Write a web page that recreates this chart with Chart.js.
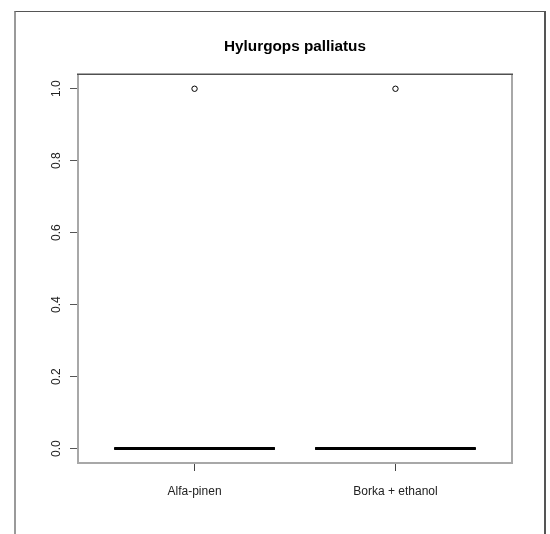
<!DOCTYPE html>
<html>
<head>
<meta charset="utf-8">
<script src="https://cdn.jsdelivr.net/npm/chart.js@4/dist/chart.umd.min.js"></script>
<style>
  html, body { margin: 0; padding: 0; background: #fff; }
  #wrap { position: relative; width: 550px; height: 534px; overflow: hidden; background: #fff; }
  #wrap canvas { position: absolute; left: 0; top: 0; }
  #frame {
    position: absolute; left: 14px; top: 11px; width: 528px; height: 600px;
    border-left: 2px solid #9a9a9a; border-top: 1px solid #555; border-right: 2px solid #555;
    pointer-events: none;
  }
</style>
</head>
<body>
<div id="wrap">
  <canvas id="chart" width="550" height="534"></canvas>
  <div id="frame"></div>
</div>
<script>
// Box-plot summary per trap type
const categories  = ['Alfa-pinen', 'Borka + ethanol'];
const whiskerLow  = [0, 0];
const q1          = [0, 0];
const medians     = [0, 0];
const q3          = [0, 0];
const whiskerHigh = [0, 0];
const outliers    = [[1], [1]];
const yTicks      = [0, 0.2, 0.4, 0.6, 0.8, 1.0];

const BOX_HALF = 0.4;      // half box width in category units
const STAPLE_HALF = 0.2;   // half whisker-cap width

const outlierPoints = [];
outliers.forEach((vals, i) => vals.forEach(v => outlierPoints.push({ x: i + 1, y: v })));

// Draws boxes, whiskers and medians through the chart scales
const boxPlotPlugin = {
  id: 'boxPlot',
  afterDatasetsDraw(chart) {
    const { ctx, scales: { x, y } } = chart;
    ctx.save();
    categories.forEach((_, i) => {
      const c = i + 1;
      const xl = x.getPixelForValue(c - BOX_HALF);
      const xr = x.getPixelForValue(c + BOX_HALF);
      const xc = x.getPixelForValue(c);
      const sl = x.getPixelForValue(c - STAPLE_HALF);
      const sr = x.getPixelForValue(c + STAPLE_HALF);
      const yq1 = y.getPixelForValue(q1[i]);
      const yq3 = y.getPixelForValue(q3[i]);
      const ylo = y.getPixelForValue(whiskerLow[i]);
      const yhi = y.getPixelForValue(whiskerHigh[i]);
      const ymed = y.getPixelForValue(medians[i]);
      ctx.strokeStyle = '#000';
      ctx.lineWidth = 1;
      // whiskers (dashed)
      ctx.setLineDash([4, 3]);
      ctx.beginPath();
      ctx.moveTo(xc, yq1); ctx.lineTo(xc, ylo);
      ctx.moveTo(xc, yq3); ctx.lineTo(xc, yhi);
      ctx.stroke();
      ctx.setLineDash([]);
      // staples
      ctx.beginPath();
      ctx.moveTo(sl, ylo); ctx.lineTo(sr, ylo);
      ctx.moveTo(sl, yhi); ctx.lineTo(sr, yhi);
      ctx.stroke();
      // box
      ctx.strokeRect(xl, yq3, xr - xl, yq1 - yq3);
      // median
      ctx.lineWidth = 3;
      ctx.lineCap = 'butt';
      ctx.beginPath();
      ctx.moveTo(xl, ymed); ctx.lineTo(xr, ymed);
      ctx.stroke();
    });
    ctx.restore();
  },
  afterDraw(chart) {
    // plot frame
    const { ctx, chartArea: a } = chart;
    ctx.save();
    ctx.strokeStyle = '#a8a8a8';
    ctx.lineWidth = 2;
    ctx.beginPath();
    ctx.moveTo(a.left, a.top); ctx.lineTo(a.left, a.bottom);
    ctx.lineTo(a.right, a.bottom); ctx.lineTo(a.right, a.top);
    ctx.stroke();
    ctx.strokeStyle = '#505050';
    ctx.lineWidth = 1.5;
    ctx.beginPath();
    ctx.moveTo(a.left - 1, a.top); ctx.lineTo(a.right + 1, a.top);
    ctx.stroke();
    ctx.restore();
  }
};

const tickFont = { family: "'Liberation Sans', Arial, sans-serif", size: 12 };

new Chart(document.getElementById('chart'), {
  type: 'scatter',
  data: {
    datasets: [{
      label: 'outliers',
      data: outlierPoints,
      pointStyle: 'circle',
      pointRadius: 2.7,
      pointBorderWidth: 1,
      pointBorderColor: '#000',
      pointBackgroundColor: '#fff'
    }]
  },
  options: {
    responsive: false,
    animation: false,
    events: [],
    layout: { padding: { left: 40, right: 0, top: 0, bottom: 0 } },
    plugins: {
      legend: { display: false },
      tooltip: { enabled: false },
      title: {
        display: true,
        text: 'Hylurgops palliatus',
        color: '#000',
        font: { family: "'Liberation Sans', Arial, sans-serif", size: 15.3, weight: 'bold' },
        padding: { top: 38, bottom: 18 }
      }
    },
    scales: {
      x: {
        type: 'linear',
        min: 0.42,
        max: 2.58,
        afterBuildTicks: s => { s.ticks = categories.map((_, i) => ({ value: i + 1 })); },
        afterFit: s => { s.height = 71; },
        ticks: {
          color: '#222',
          font: tickFont,
          padding: 13,
          maxRotation: 0,
          callback: v => categories[Math.round(v) - 1]
        },
        grid: { drawOnChartArea: false, drawTicks: true, tickLength: 8, color: '#444', lineWidth: 1 },
        border: { display: false }
      },
      y: {
        type: 'linear',
        min: -0.04,
        max: 1.04,
        afterBuildTicks: s => { s.ticks = yTicks.map(v => ({ value: v })); },
        afterFit: s => { s.width = 38; },
        ticks: {
          color: '#222',
          font: tickFont,
          minRotation: 90,
          maxRotation: 90,
          crossAlign: 'center',
          padding: 5,
          callback: v => Number(v).toFixed(1)
        },
        grid: { drawOnChartArea: false, drawTicks: true, tickLength: 8, color: '#555', lineWidth: 1 },
        border: { display: false }
      },
      y2: {
        type: 'linear',
        position: 'right',
        display: true,
        min: -0.04,
        max: 1.04,
        afterFit: s => { s.width = 38; },
        ticks: { display: false },
        grid: { display: false, drawTicks: false },
        border: { display: false }
      }
    }
  },
  plugins: [boxPlotPlugin]
});
</script>
</body>
</html>
